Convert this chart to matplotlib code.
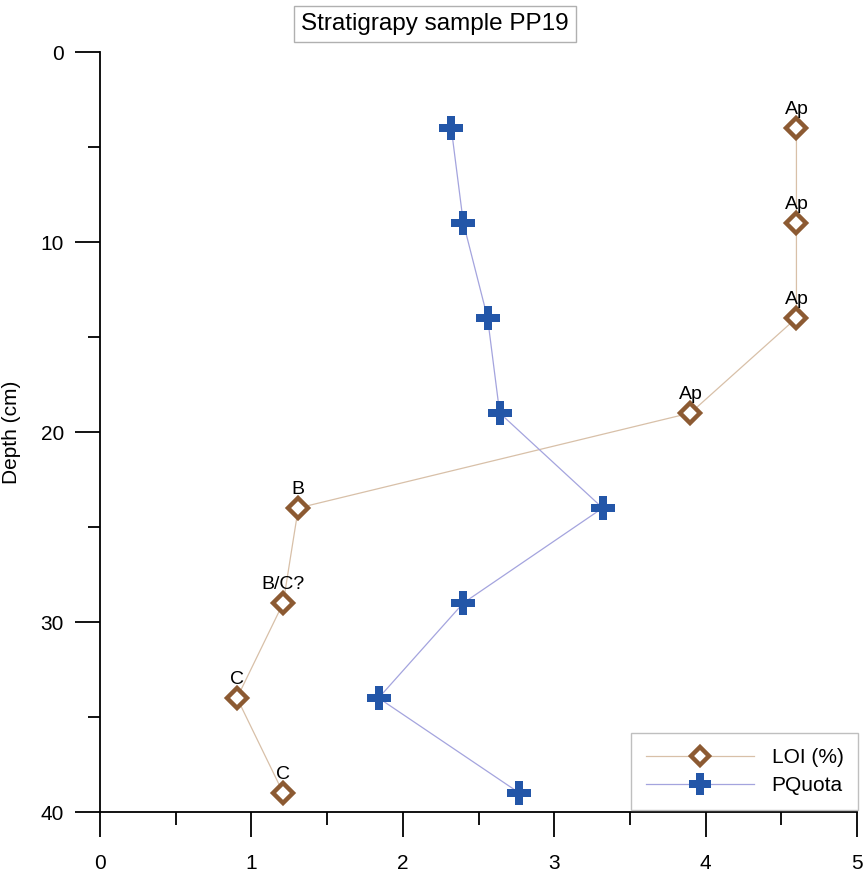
import numpy as np
import matplotlib.pyplot as plt

plt.rcParams['font.family'] = ['Liberation Sans', 'DejaVu Sans']

# data
depth = [4, 9, 14, 19, 24, 29, 34, 39]
loi = [4.6, 4.6, 4.6, 3.9, 1.31, 1.21, 0.905, 1.21]
pquota = [2.32, 2.40, 2.56, 2.64, 3.32, 2.40, 1.84, 2.77]
horizons = ['Ap', 'Ap', 'Ap', 'Ap', 'B', 'B/C?', 'C', 'C']

brown = '#8c5a32'
blue = '#2356a8'

fig = plt.figure(figsize=(8.66, 8.72), dpi=100)
ax = fig.add_axes([100/866, 1-812/872, 757/866, 760/872])

l1, = ax.plot(loi, depth, color='#d8c0a8', linewidth=0.9, marker='D', markersize=10.5,
              markerfacecolor='white', markeredgecolor=brown, markeredgewidth=3.2,
              label='LOI (%)', zorder=3)
l2, = ax.plot(pquota, depth, color='#a4a4de', linewidth=0.9, marker='P', markersize=17,
              markerfacecolor=blue, markeredgecolor=blue, markeredgewidth=0,
              label='PQuota', zorder=3)

for xv, yv, s in zip(loi, depth, horizons):
    ax.annotate(s, (xv, yv), xytext=(0, 10), textcoords='offset points',
                ha='center', va='baseline', fontsize=14)

ax.set_xlim(0, 5)
ax.set_ylim(40, 0)
ax.set_xticks(np.arange(0, 6, 1))
ax.set_xticks(np.arange(0.5, 5, 1), minor=True)
ax.set_yticks(np.arange(0, 41, 10))
ax.set_yticks(np.arange(5, 40, 10), minor=True)

for s in ['top', 'right']:
    ax.spines[s].set_visible(False)
for s in ['left', 'bottom']:
    ax.spines[s].set_linewidth(1.3)

ax.tick_params(which='major', direction='out', length=18, width=1.3, labelsize=15)
ax.tick_params(which='minor', direction='out', length=9, width=1.3)
ax.tick_params(axis='x', which='major', pad=12)
ax.tick_params(axis='y', which='major', pad=8)

ax.set_ylabel('Depth (cm)', fontsize=15)
ax.yaxis.set_label_coords(-0.105, 0.5)

fig.text(435/866, 1-24/872, 'Stratigrapy sample PP19', ha='center', va='center',
         fontsize=17.5, bbox=dict(boxstyle='square,pad=0.3', facecolor='white',
                                  edgecolor='#b0b0b0', linewidth=1))

leg = ax.legend(handles=[l1, l2], loc='lower right',
                bbox_to_anchor=(858/866, 1-810/872), bbox_transform=fig.transFigure,
                borderaxespad=0, fontsize=15, handlelength=5.2, handletextpad=0.85,
                labelspacing=0.45, fancybox=False, edgecolor='#b0b0b0',
                borderpad=0.7, markerscale=0.9)
leg.get_frame().set_linewidth(1)

fig.savefig('out.png', dpi=100)
